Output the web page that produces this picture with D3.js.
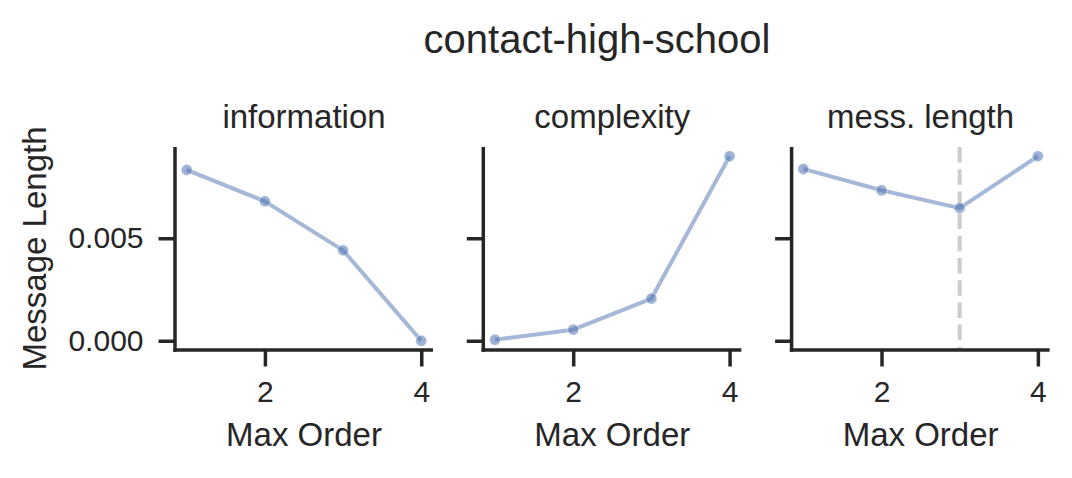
<!DOCTYPE html>
<html>
<head>
<meta charset="utf-8">
<script src="https://cdn.jsdelivr.net/npm/d3@7"></script>
<style>
html,body{margin:0;padding:0;background:#fff;}
text{font-family:"Liberation Sans",Arial,sans-serif;fill:#262626;}
</style>
</head>
<body>
<svg id="chart" width="1072" height="478"></svg>
<script>
const suptitle = "contact-high-school";
const maxOrders = [1, 2, 3, 4];
const information = [0.00833, 0.0068, 0.00441, 0.0];
const complexity = [0.00005, 0.00054, 0.00206, 0.0090];
const messLength = [0.00838, 0.00734, 0.00647, 0.0090];
const panelTitles = ["information", "complexity", "mess. length"];
const xTicks = [2, 4];
const yTicks = [0.000, 0.005];
const bestOrder = 3;
const xLabel = "Max Order";
const yLabel = "Message Length";

const series = [information, complexity, messLength];
const svg = d3.select("#chart");
const plotTop = 147, plotBottom = 350;
const panelW = 258, panelX0 = 175, panelGap = 308.3;
const ink = "#262626";
const blue = "#4C72B0";

const allVals = series.flat();
const ymin = d3.min(allVals), ymax = d3.max(allVals);
const ypad = (ymax - ymin) * 0.05;
const y = d3.scaleLinear().domain([ymin - ypad, ymax + ypad]).range([plotBottom, plotTop]);
const xmin = d3.min(maxOrders), xmax = d3.max(maxOrders);
const xpad = (xmax - xmin) * 0.05;

svg.append("text").attr("x", 597).attr("y", 53).attr("text-anchor", "middle")
  .attr("font-size", 40).text(suptitle);

series.forEach((vals, i) => {
  const x0 = panelX0 + i * panelGap;
  const x = d3.scaleLinear().domain([xmin - xpad, xmax + xpad]).range([x0, x0 + panelW]);
  const g = svg.append("g");

  g.append("text").attr("x", x0 + panelW / 2).attr("y", 128).attr("text-anchor", "middle")
    .attr("font-size", 33).text(panelTitles[i]);

  if (i === 2) {
    g.append("line").attr("x1", x(bestOrder)).attr("x2", x(bestOrder))
      .attr("y1", plotTop).attr("y2", plotBottom)
      .attr("stroke", "#cccccc").attr("stroke-width", 4)
      .attr("stroke-dasharray", "15.5,6.7");
  }

  const pts = maxOrders.map((m, k) => [m, vals[k]]);
  g.append("path").datum(pts)
    .attr("d", d3.line().x(d => x(d[0])).y(d => y(d[1])))
    .attr("fill", "none").attr("stroke", blue).attr("stroke-opacity", 0.5)
    .attr("stroke-width", 4).attr("stroke-linejoin", "round");
  g.selectAll("circle.m").data(pts).enter().append("circle")
    .attr("cx", d => x(d[0])).attr("cy", d => y(d[1])).attr("r", 5.5)
    .attr("fill", blue).attr("fill-opacity", 0.55)
    .attr("stroke", "#fff").attr("stroke-opacity", 0.35).attr("stroke-width", 1.2);

  const xa = g.append("g").attr("transform", `translate(0,${plotBottom})`)
    .call(d3.axisBottom(x).tickValues(xTicks).tickFormat(d3.format("d")).tickSize(16.5).tickPadding(14));
  xa.select(".domain").remove();
  xa.selectAll(".tick line").attr("stroke", ink).attr("stroke-width", 3.5);
  xa.selectAll(".tick text").attr("font-size", 30).attr("fill", ink)
    .attr("font-family", '"Liberation Sans",Arial,sans-serif');
  g.append("line").attr("x1", x0 - 1.75).attr("x2", x0 + panelW).attr("y1", plotBottom).attr("y2", plotBottom)
    .attr("stroke", ink).attr("stroke-width", 3.5);

  const ya = g.append("g").attr("transform", `translate(${x0},0)`)
    .call(d3.axisLeft(y).tickValues(yTicks).tickFormat(i === 0 ? d3.format(".3f") : () => "").tickSize(16.5).tickPadding(15));
  ya.select(".domain").remove();
  ya.selectAll(".tick line").attr("stroke", ink).attr("stroke-width", 3.5);
  ya.selectAll(".tick text").attr("font-size", 30).attr("fill", ink)
    .attr("font-family", '"Liberation Sans",Arial,sans-serif');
  g.append("line").attr("x1", x0).attr("x2", x0).attr("y1", plotTop).attr("y2", plotBottom + 1.75)
    .attr("stroke", ink).attr("stroke-width", 3.5);

  g.append("text").attr("x", x0 + panelW / 2).attr("y", 446).attr("text-anchor", "middle")
    .attr("font-size", 33).text(xLabel);
});

svg.append("text").attr("transform", `translate(46,${(plotTop + plotBottom) / 2}) rotate(-90)`)
  .attr("text-anchor", "middle").attr("font-size", 33).text(yLabel);
</script>
</body>
</html>
